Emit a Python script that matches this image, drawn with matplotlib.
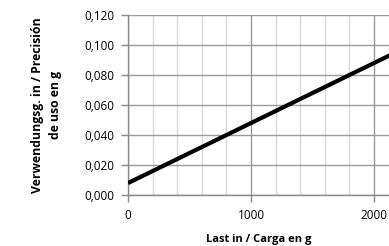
import numpy as np
import matplotlib
matplotlib.use('Agg')
import matplotlib.pyplot as plt
from matplotlib.ticker import MultipleLocator, FuncFormatter

# Data
load_g = [0, 2200]
precision_g = [0.008, 0.096]

plt.rcParams['font.family'] = ['Open Sans', 'DejaVu Sans']

fig = plt.figure(figsize=(3.89, 2.46), dpi=100)
ax = fig.add_axes([0.329, 0.207, 0.671, 0.732])

ax.plot(load_g, precision_g, color='black', linewidth=3.0, solid_capstyle='butt', zorder=3)

ax.set_xlim(0, 2122)
ax.set_ylim(0, 0.12)
ax.xaxis.set_major_locator(MultipleLocator(1000))
ax.xaxis.set_minor_locator(MultipleLocator(200))
ax.yaxis.set_major_locator(MultipleLocator(0.02))
ax.yaxis.set_major_formatter(FuncFormatter(lambda v, p: f'{v:.3f}'.replace('.', ',')))

ax.grid(True, which='major', color='#9a9a9a', linewidth=1.0)
ax.grid(True, which='minor', axis='x', color='#d9d9d9', linewidth=1.0)
ax.set_axisbelow(True)

for s in ['top', 'right']:
    ax.spines[s].set_visible(False)
for s in ['left', 'bottom']:
    ax.spines[s].set_color('#8a8a8a')
    ax.spines[s].set_linewidth(1.0)

ax.tick_params(which='major', length=5, width=1, color='#8a8a8a', labelsize=8.5, pad=5)
ax.tick_params(which='minor', length=0)

ax.set_xlabel('Last in / Carga en g', fontsize=8, fontweight='bold', labelpad=9)
ax.set_ylabel('Verwendungsg. in / Precisión\nde uso en g', fontsize=8.8, fontweight='bold',
              labelpad=16, linespacing=1.5)

fig.savefig('out.png', dpi=100)
